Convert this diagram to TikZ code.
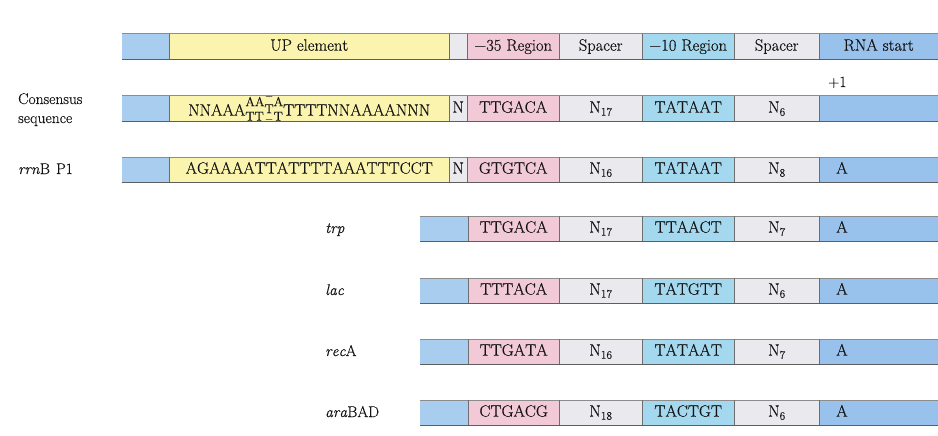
\documentclass[tikz,border=0pt]{standalone}
\usepackage{fontspec}
\setmainfont{Latin Modern Roman}[Kerning=Off, FakeBold=0.35]

\definecolor{endblue}{HTML}{A9CDEF}
\definecolor{startblue}{HTML}{98C2EC}
\definecolor{upyellow}{HTML}{FAF4AE}
\definecolor{spacegray}{HTML}{E9E9EE}
\definecolor{boxpink}{HTML}{F2C9D6}
\definecolor{boxcyan}{HTML}{A4D8EE}
\definecolor{rimtop}{HTML}{8C8C8C}
\definecolor{rimbot}{HTML}{5E5E5E}
\definecolor{rimdiv}{HTML}{6E6E6E}
\definecolor{textdark}{HTML}{141414}

\newcommand\seqfont{\fontsize{16.5}{19}\selectfont}
\newcommand\namefont{\fontsize{15.5}{18}\selectfont}
\newcommand\smallseq{\fontsize{13}{14}\selectfont}

% two alternative bases stacked above and below the line
\newcommand\baseduo[2]{{\smallseq\ooalign{\raisebox{9.5pt}{#1}\cr\raisebox{-5pt}{#2}\cr}}}
% a base flanked by dashes above and below
\newcommand\flankdash[1]{{\smallseq\ooalign{\hfil\raisebox{15.5pt}{\textendash}\hfil\cr\raisebox{2.5pt}{#1}\cr\hfil\raisebox{-7pt}{\textendash}\hfil\cr}}}
\newcommand\upconsensus{\raisebox{-3pt}{NNAAA\baseduo{AA}{TT}\flankdash{T}\baseduo{A}{T}TTTTNNAAAANNN}}
% "A" set near the left of the RNA-start box
\newcommand\startA{\makebox[119pt][l]{\hspace{17pt}A}}
% spacer length N_k
\newcommand\Nsub[1]{N\raisebox{-3pt}{\fontsize{11.5}{12}\selectfont#1}}
\newcommand\minus{\symbol{"2212}}

\newcommand\seg[6]{\node[seg,fill=#5,minimum width={#3-#2}] (#1) at (#2,#4) {#6};}
\newcommand\rims[2]{%
  \draw[topline] (#1.north west) -- (#2.north east);
  \draw[botline] (#1.south west) -- (#2.south east);}
\newcommand\cutafter[1]{\draw[divider] (#1.north east) -- (#1.south east);}

% a promoter row without UP element
\newcommand\shortrow[7]{%
  \seg{#1a}{420}{468}{#2}{endblue}{}
  \seg{#1b}{468}{559}{#2}{boxpink}{#4}
  \seg{#1c}{559}{642}{#2}{spacegray}{\Nsub{#5}}
  \seg{#1d}{642}{734}{#2}{boxcyan}{#6}
  \seg{#1e}{734}{819}{#2}{spacegray}{\Nsub{#7}}
  \seg{#1f}{819}{938}{#2}{startblue}{\startA}
  \rims{#1a}{#1f}
  \cutafter{#1a}\cutafter{#1b}\cutafter{#1c}\cutafter{#1d}\cutafter{#1e}
  \node[lbl] (#1lbl) at (325,#2+17) {#3};}

\begin{document}
\begin{tikzpicture}[x=1pt,y=-1pt,
  seg/.style={anchor=north west, inner sep=0pt, minimum height=25pt,
    text height=11.5pt, text depth=3.5pt, font=\seqfont, text=textdark},
  lbl/.style={anchor=base west, inner sep=0pt, font=\namefont, text=textdark},
  topline/.style={draw=rimtop, line width=1pt},
  botline/.style={draw=rimbot, line width=1.4pt},
  divider/.style={draw=rimdiv, line width=0.8pt}]
\useasboundingbox (0,0) rectangle (938,436);

% header row
\seg{h0}{122}{169}{34}{endblue}{}
\seg{h1}{169}{449}{34}{upyellow}{UP element}
\seg{h2}{449}{467}{34}{spacegray}{}
\seg{h3}{467}{559}{34}{boxpink}{\minus35 Region}
\seg{h4}{559}{642}{34}{spacegray}{Spacer}
\seg{h5}{642}{734}{34}{boxcyan}{\minus10 Region}
\seg{h6}{734}{819}{34}{spacegray}{Spacer}
\seg{h7}{819}{938}{34}{startblue}{RNA start}
\rims{h0}{h7}
\cutafter{h0}\cutafter{h1}\cutafter{h2}\cutafter{h3}\cutafter{h4}\cutafter{h5}\cutafter{h6}

% consensus row
\seg{c0}{122}{169}{96}{endblue}{}
\seg{c1}{169}{449}{96}{upyellow}{\upconsensus}
\seg{c2}{449}{467}{96}{spacegray}{N}
\seg{c3}{467}{559}{96}{boxpink}{TTGACA}
\seg{c4}{559}{642}{96}{spacegray}{\Nsub{17}}
\seg{c5}{642}{734}{96}{boxcyan}{TATAAT}
\seg{c6}{734}{819}{96}{spacegray}{\Nsub{6}}
\seg{c7}{819}{938}{96}{startblue}{}
\rims{c0}{c7}
\cutafter{c0}\cutafter{c1}\cutafter{c2}\cutafter{c3}\cutafter{c4}\cutafter{c5}\cutafter{c6}
\node[lbl] (cons1) at (18,104) {Consensus};
\node[lbl] (cons2) at (18,123) {sequence};
\node[lbl] (plusone) at (828,87) {+1};

% rrnB P1 row
\seg{r0}{122}{169}{157}{endblue}{}
\seg{r1}{169}{449}{157}{upyellow}{AGAAAATTATTTTAAATTTCCT}
\seg{r2}{449}{467}{157}{spacegray}{N}
\seg{r3}{467}{559}{157}{boxpink}{GTGTCA}
\seg{r4}{559}{642}{157}{spacegray}{\Nsub{16}}
\seg{r5}{642}{734}{157}{boxcyan}{TATAAT}
\seg{r6}{734}{819}{157}{spacegray}{\Nsub{8}}
\seg{r7}{819}{938}{157}{startblue}{\startA}
\rims{r0}{r7}
\cutafter{r0}\cutafter{r1}\cutafter{r2}\cutafter{r3}\cutafter{r4}\cutafter{r5}\cutafter{r6}
\node[lbl] (rrnlbl) at (18,174) {\textit{rrn}B\hspace{6pt}P1};

% other promoters
\shortrow{trp}{216}{\textit{trp}}{TTGACA}{17}{TTAACT}{7}
\shortrow{lac}{278}{\textit{lac}}{TTTACA}{17}{TATGTT}{6}
\shortrow{rec}{339}{\textit{rec}A}{TTGATA}{16}{TATAAT}{7}
\shortrow{ara}{400}{\textit{ara}BAD}{CTGACG}{18}{TACTGT}{6}
\end{tikzpicture}
\end{document}
